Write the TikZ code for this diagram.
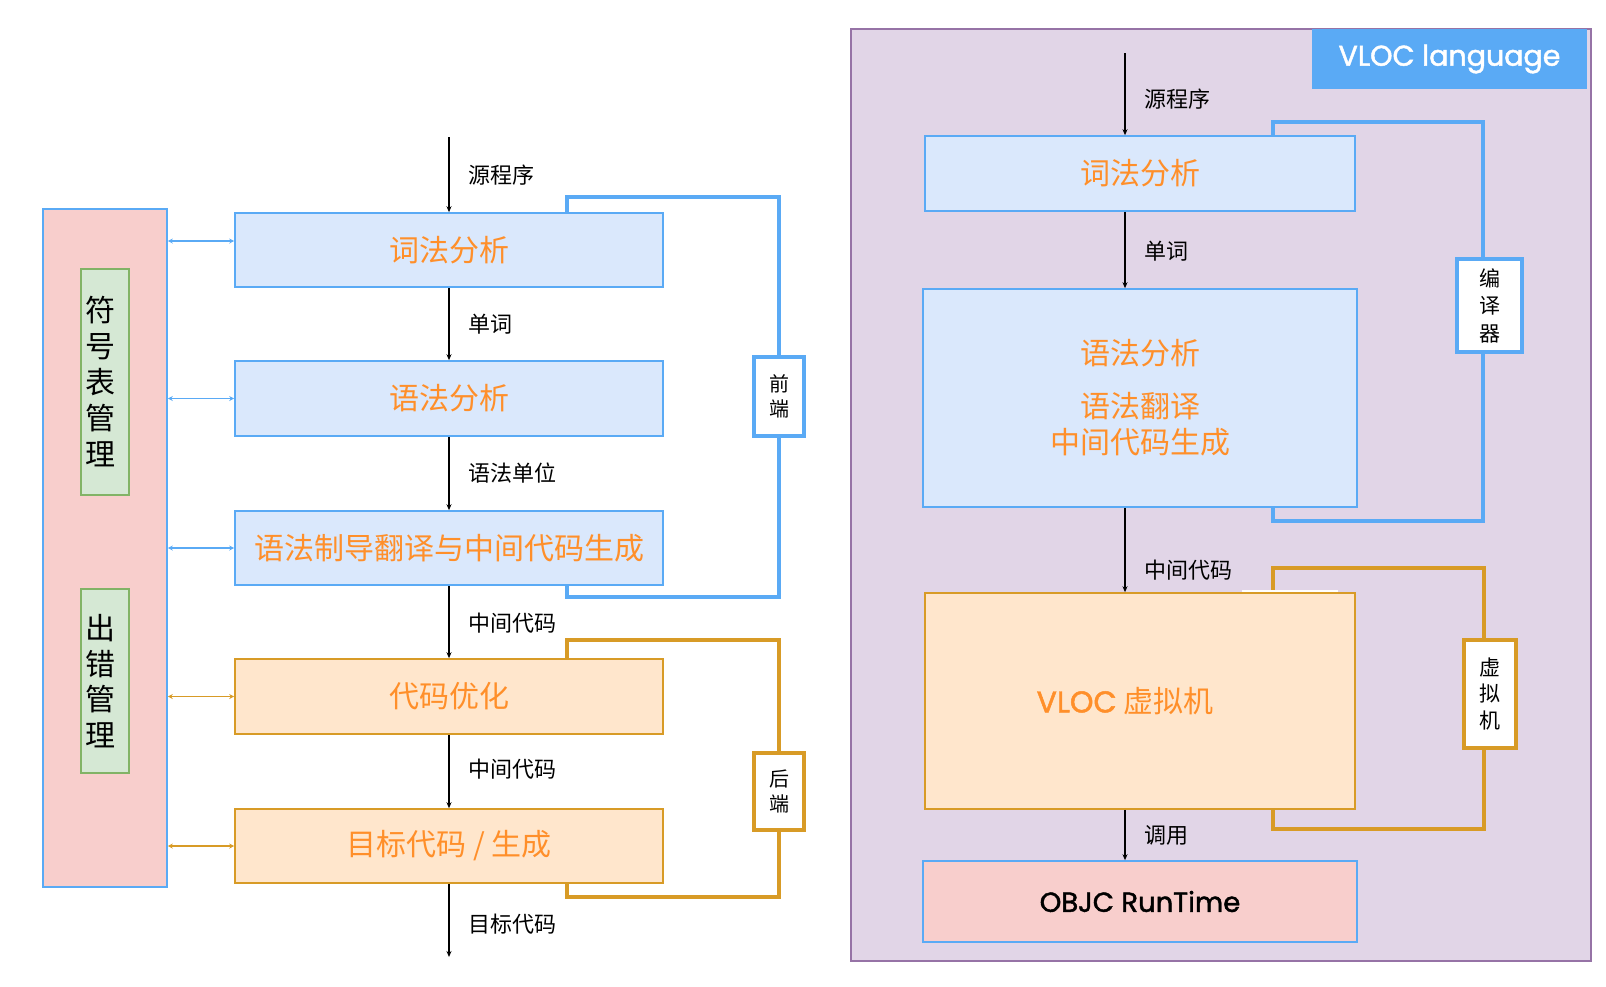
\documentclass[tikz,border=0pt]{standalone}
\usepackage{fontspec}
\setmainfont{Noto Sans CJK SC}
\newfontfamily\futura{Poppins}[FakeBold=1.6]
\usetikzlibrary{arrows.meta, calc, positioning}
\definecolor{bl}{HTML}{5AAAF5}
\definecolor{bf}{HTML}{DAE8FC}
\definecolor{of}{HTML}{FFE6CC}
\definecolor{ol}{HTML}{D89B26}
\definecolor{ot}{HTML}{FF8F2A}
\definecolor{rf}{HTML}{F8CECC}
\definecolor{gf}{HTML}{D5E8D4}
\definecolor{gl}{HTML}{82B366}
\definecolor{pf}{HTML}{E1D5E7}
\definecolor{pl}{HTML}{9673A6}

\begin{document}
\begin{tikzpicture}[x=1pt, y=-1pt,
    box/.style={draw, rectangle, inner sep=0pt, line width=1.6pt},
    stage/.style={box, draw=bl, fill=bf, text=ot, font=\fontsize{30}{36}\selectfont},
    ostage/.style={box, draw=ol, fill=of, text=ot, font=\fontsize{30}{36}\selectfont},
    vtext/.style={box, draw=gl, fill=gf, inner xsep=4pt, text width=40pt, align=left},
    tag/.style={box, fill=white, line width=3.4pt, align=center, font=\fontsize{20}{25.5}\selectfont},
    flow/.style={line width=1.5pt, -{Stealth[length=6pt, width=5pt]}},
    lbl/.style={anchor=west, inner sep=0pt, font=\fontsize{22}{26}\selectfont},
    link/.style={line width=1.5pt, {Stealth[length=5pt, width=5pt]}-{Stealth[length=5pt, width=5pt]}},
    brace/.style={line width=3.2pt}
]
	\useasboundingbox (0,0) rectangle (1606,986);

	% left: classic compiler
	\node[box, draw=bl, fill=rf, minimum width=124pt, minimum height=678pt] (sym) at (105,548) {};
	\node[vtext, minimum height=226pt, font=\fontsize{30}{36}\selectfont] (symtab) at (105,382) {符\\号\\表\\管\\理};
	\node[vtext, minimum height=184pt, font=\fontsize{30}{35.5}\selectfont] (errmgr) at (105,681) {出\\错\\管\\理};

	\node[stage, minimum width=428pt, minimum height=74pt] (lexA) at (449,250) {词法分析};
	\node[stage, minimum width=428pt, minimum height=75pt] (synA) at (449,398.5) {语法分析};
	\node[stage, minimum width=428pt, minimum height=74pt] (sddA) at (449,548) {语法制导翻译与中间代码生成};
	\node[ostage, minimum width=428pt, minimum height=75pt] (optA) at (449,696.5) {代码优化};
	\node[ostage, minimum width=428pt, minimum height=74pt] (genA) at (449,846) {目标代码 / 生成};

	\coordinate (srcA) at (449,137);
	\coordinate (outA) at (449,957);

	\draw[flow] (srcA) -- (lexA.north);
	\draw[flow] (lexA.south) -- (synA.north);
	\draw[flow] (synA.south) -- (sddA.north);
	\draw[flow] (sddA.south) -- (optA.north);
	\draw[flow] (optA.south) -- (genA.north);
	\draw[flow] (genA.south) -- (outA);

	\node[lbl] (srcAl) at (468,175) {源程序};
	\node[lbl] (wordAl) at (468,324) {单词};
	\node[lbl] (unitAl) at (468,473) {语法单位};
	\node[lbl] (imAl) at (468,623) {中间代码};
	\node[lbl] (imBl) at (468,769) {中间代码};
	\node[lbl] (outAl) at (468,924) {目标代码};

	\coordinate (lexIn) at (235,241);
	\draw[link, bl] (sym.east |- lexIn) -- (lexA.west |- lexIn);
	\draw[link, bl] (sym.east |- synA) -- (synA.west);
	\draw[link, bl] (sym.east |- sddA) -- (sddA.west);
	\draw[link, ol] (sym.east |- optA) -- (optA.west);
	\draw[link, ol] (sym.east |- genA) -- (genA.west);

	\node[tag, draw=bl, minimum width=50pt, minimum height=79pt] (front) at (779,396.5) {前\\端};
	\node[tag, draw=ol, minimum width=50pt, minimum height=77pt] (back) at (779,791.5) {后\\端};

	\coordinate (fTop) at (567,197);
	\coordinate (fBot) at (567,597);
	\coordinate (bTop) at (567,640);
	\coordinate (bBot) at (567,897);

	\draw[brace, bl] (lexA.north -| fTop) -- (fTop) -| (front.north);
	\draw[brace, bl] (front.south) |- (fBot) -- (sddA.south -| fBot);
	\draw[brace, ol] (optA.north -| bTop) -- (bTop) -| (back.north);
	\draw[brace, ol] (back.south) |- (bBot) -- (genA.south -| bBot);

	% right: VLOC
	\node[box, draw=pl, fill=pf, line width=1.2pt, minimum width=740pt, minimum height=932pt] (vloc) at (1221,495) {};
	\node[box, draw=none, fill=bl, text=white, minimum width=275pt, minimum height=60pt,
		font=\futura\fontsize{28.5}{32}\selectfont] (title) at (1449.5,59) {\raisebox{-2pt}{VLOC language}};

	\node[stage, minimum width=430pt, minimum height=75pt] (lexB) at (1140,173.5) {词法分析};
	\node[stage, minimum width=434pt, minimum height=218pt, align=center] (synB) at (1140,398)
		{语法分析\\[17pt]语法翻译\\中间代码生成};
	\node[ostage, minimum width=430pt, minimum height=216pt] (vmB) at (1140,701)
		{{\futura\fontsize{30}{36}\selectfont VLOC} 虚拟机\hspace*{30pt}};
	\node[box, draw=bl, fill=rf, minimum width=434pt, minimum height=81pt,
		font=\futura\fontsize{27.5}{30}\selectfont] (rtB) at (1140,901.5) {OBJC RunTime};

	\coordinate (srcB) at (1125,53);

	\draw[flow] (srcB) -- (srcB |- lexB.north);
	\draw[flow] (lexB.south -| srcB) -- (synB.north -| srcB);
	\draw[flow] (synB.south -| srcB) -- (vmB.north -| srcB);
	\draw[flow] (vmB.south -| srcB) -- (rtB.north -| srcB);

	\node[lbl] (srcBl) at (1144,99) {源程序};
	\node[lbl] (wordBl) at (1144,251) {单词};
	\node[lbl] (imCl) at (1144,570) {中间代码};
	\node[lbl] (callBl) at (1144,835) {调用};

	\node[tag, draw=bl, minimum width=65pt, minimum height=93pt, font=\fontsize{21}{27.5}\selectfont] (comp) at (1489.5,305.5) {编\\译\\器};
	\node[tag, draw=ol, minimum width=52pt, minimum height=108pt, font=\fontsize{21}{26.5}\selectfont] (vm) at (1490,694) {虚\\拟\\机};

	\coordinate (cTL) at (1273,122);
	\coordinate (cTR) at (1483,122);
	\coordinate (cBL) at (1273,521);
	\coordinate (cBR) at (1483,521);
	\coordinate (vTL) at (1273,568);
	\coordinate (vTR) at (1484,568);
	\coordinate (vBL) at (1273,829);
	\coordinate (vBR) at (1484,829);

	\draw[brace, bl] (lexB.north -| cTL) -- (cTL) -- (cTR) -- (comp.north -| cTR);
	\draw[brace, bl] (comp.south -| cBR) -- (cBR) -- (cBL) -- (synB.south -| cBL);
	\draw[brace, ol] (vmB.north -| vTL) -- (vTL) -- (vTR) -- (vm.north -| vTR);
	\draw[brace, ol] (vm.south -| vBR) -- (vBR) -- (vBL) -- (vmB.south -| vBL);

	\draw[white, line width=1.5pt] (1242,591) -- (1338,591);

\end{tikzpicture}
\end{document}
